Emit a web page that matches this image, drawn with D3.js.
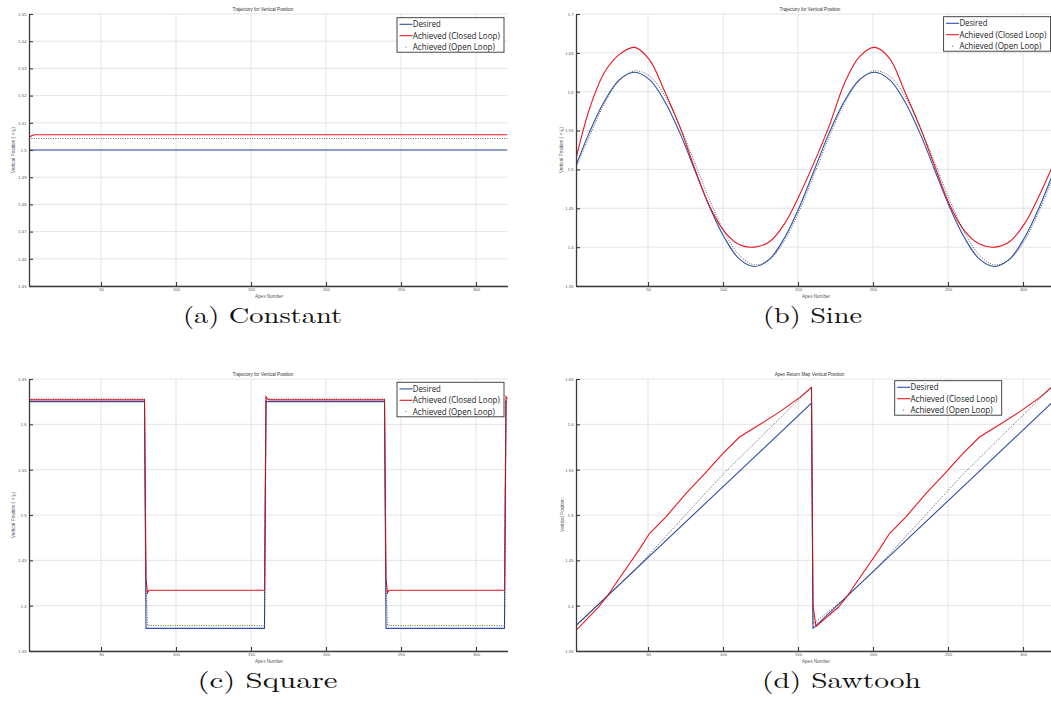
<!DOCTYPE html>
<html>
<head>
<meta charset="utf-8">
<script src="https://cdn.jsdelivr.net/npm/d3@7"></script>
<style>
  html, body { margin: 0; padding: 0; background: #fff; }
  svg { display: block; }
</style>
</head>
<body>
<svg id="fig" width="1051" height="726"></svg>
<script>
// ---------- shared axis ticks ----------
const apexDomain = [2, 321];
const xTicks = [50, 100, 150, 200, 250, 300];
const yTicksConst = [1.45, 1.46, 1.47, 1.48, 1.49, 1.5, 1.51, 1.52, 1.53, 1.54, 1.55];
const yTicksSine = [1.35, 1.4, 1.45, 1.5, 1.55, 1.6, 1.65, 1.7];
const yTicksSquare = [1.35, 1.4, 1.45, 1.5, 1.55, 1.6, 1.65];
const yTicksSaw = [1.35, 1.4, 1.45, 1.5, 1.55, 1.6, 1.65];

// ---------- (a) constant reference ----------
const constApex = [2, 4, 6, 321];
const constDesired = [1.5, 1.5, 1.5, 1.5];
const constClosed = [1.5046, 1.5053, 1.5056, 1.5056];
const constOpen = [1.5042, 1.5042, 1.5042, 1.5042];

// ---------- (b) sine reference ----------
const sineApex = [2, 11, 21, 31, 41, 51, 61, 71, 81, 91, 101, 111, 121, 131, 141, 151, 161,
                  171, 181, 191, 201, 211, 221, 231, 241, 251, 261, 271, 281, 291, 301, 311, 321];
const sineDesired = [1.505, 1.548, 1.588, 1.6155, 1.625, 1.6155, 1.588, 1.548, 1.5, 1.452, 1.412, 1.3845, 1.375, 1.3845, 1.412, 1.452, 1.5,
                     1.548, 1.588, 1.6155, 1.625, 1.6155, 1.588, 1.548, 1.5, 1.452, 1.412, 1.3845, 1.375, 1.3845, 1.412, 1.452, 1.5];
const sineClosed = [1.514, 1.578, 1.625, 1.648, 1.657, 1.641, 1.601, 1.556, 1.502, 1.453, 1.42, 1.403, 1.4, 1.407, 1.43, 1.467, 1.51,
                    1.557, 1.611, 1.645, 1.657, 1.643, 1.601, 1.556, 1.505, 1.455, 1.421, 1.404, 1.4, 1.407, 1.43, 1.467, 1.51];
const sineOpen = [1.503, 1.5429, 1.585, 1.6145, 1.6268, 1.6201, 1.5955, 1.5566, 1.5094, 1.4611, 1.419, 1.3895, 1.3773, 1.3839, 1.4085, 1.4474, 1.4946,
                  1.5429, 1.585, 1.6145, 1.6268, 1.6201, 1.5955, 1.5566, 1.5094, 1.4611, 1.419, 1.3895, 1.3773, 1.3839, 1.4085, 1.4474, 1.4946];

// ---------- (c) square reference ----------
const sqDesiredApex = [2, 79, 80, 159, 160, 239, 240, 319, 320, 321];
const sqDesired = [1.625, 1.625, 1.375, 1.375, 1.625, 1.625, 1.375, 1.375, 1.625, 1.625];
const sqClosedApex = [2, 79, 80, 81, 82, 159, 160, 161, 162, 239, 240, 241, 242, 319, 320, 321];
const sqClosed = [1.627, 1.627, 1.43, 1.414, 1.417, 1.417, 1.6305, 1.628, 1.627, 1.627, 1.43, 1.414, 1.417, 1.417, 1.6305, 1.628];
const sqOpenApex = [2, 79, 80, 81, 159, 160, 161, 239, 240, 241, 319, 320, 321];
const sqOpen = [1.628, 1.628, 1.428, 1.378, 1.378, 1.628, 1.628, 1.628, 1.428, 1.378, 1.378, 1.628, 1.628];

// ---------- (d) sawtooth reference ----------
const sawDesiredApex = [2, 159, 160, 319, 320, 321];
const sawDesired = [1.378, 1.6234, 1.375, 1.6234, 1.375, 1.3766];
const sawClosedApex = [2, 17, 23, 30, 38, 45, 51, 62, 76, 88, 100, 111, 124, 138, 151, 159,
                       160, 162, 177, 183, 190, 198, 205, 211, 222, 236, 248, 260, 271, 284, 298, 311, 319, 320, 321];
const sawClosed = [1.3727, 1.3985, 1.411, 1.428, 1.447, 1.464, 1.4796, 1.498, 1.525, 1.546, 1.568, 1.586, 1.5993, 1.614, 1.6294, 1.6408,
                   1.40, 1.377, 1.3985, 1.411, 1.428, 1.447, 1.464, 1.4796, 1.498, 1.525, 1.546, 1.568, 1.586, 1.5993, 1.614, 1.6294, 1.6408, 1.40, 1.377];
const sawOpenApex = [2, 20, 40, 50, 100, 159, 160, 180, 200, 210, 260, 319, 320, 321];
const sawOpen = [1.378, 1.406, 1.4375, 1.455, 1.545, 1.641, 1.38, 1.406, 1.4375, 1.455, 1.545, 1.641, 1.38, 1.3815];

// ---------- legend text ----------
const legendLabels = ["Desired", "Achieved (Closed Loop)", "Achieved (Open Loop)"];
const legendWidths = [28, 87, 82];

// ---------- styles ----------
const BLUE = "#2f4fa8";
const RED = "#e8161f";
const AXIS = "#3a3a3a";
const GRID = "#e4e4e4";
const SANS = "'Liberation Sans', Arial, sans-serif";
const SERIF = "'Latin Modern Roman', 'CMU Serif', 'Liberation Serif', serif";

const panels = [
  {
    key: "a", x0: 29, x1: 507.5, y0: 14, y1: 286, yDomain: [1.45, 1.55], yTicks: yTicksConst,
    title: "Trajectory for Vertical Position", titleX: 263, scaledLabel: true, ylabX: 14.5,
    legend: { x: 397, y: 17.7 }, caption: "(a) Constant", capX: 183, capY: 322.5, capW: 159,
    curve: d3.curveLinear,
    desired: d3.zip(constApex, constDesired), closed: d3.zip(constApex, constClosed), open: d3.zip(constApex, constOpen)
  },
  {
    key: "b", x0: 576, x1: 1054.5, y0: 14, y1: 286, yDomain: [1.35, 1.7], yTicks: yTicksSine,
    title: "Trajectory for Vertical Position", titleX: 810, scaledLabel: true, ylabX: 562.5,
    legend: { x: 943.6, y: 16.7 }, caption: "(b) Sine", capX: 763, capY: 322.5, capW: 99,
    curve: d3.curveCatmullRom.alpha(0.5),
    desired: d3.zip(sineApex, sineDesired), closed: d3.zip(sineApex, sineClosed), open: d3.zip(sineApex, sineOpen)
  },
  {
    key: "c", x0: 29, x1: 507.5, y0: 379, y1: 651, yDomain: [1.35, 1.65], yTicks: yTicksSquare,
    title: "Trajectory for Vertical Position", titleX: 263, scaledLabel: true, ylabX: 14.5,
    legend: { x: 397, y: 382.3 }, caption: "(c) Square", capX: 197.5, capY: 688, capW: 140,
    curve: d3.curveLinear,
    desired: d3.zip(sqDesiredApex, sqDesired), closed: d3.zip(sqClosedApex, sqClosed), open: d3.zip(sqOpenApex, sqOpen)
  },
  {
    key: "d", x0: 576, x1: 1054.5, y0: 379, y1: 651, yDomain: [1.35, 1.65], yTicks: yTicksSaw,
    title: "Apex Return Map Vertical Position", titleX: 809.5, scaledLabel: false, ylabX: 563.5,
    legend: { x: 894.7, y: 380.7 }, caption: "(d) Sawtooh", capX: 762, capY: 688, capW: 159,
    curve: d3.curveLinear,
    desired: d3.zip(sawDesiredApex, sawDesired), closed: d3.zip(sawClosedApex, sawClosed), open: d3.zip(sawOpenApex, sawOpen)
  }
];

const svg = d3.select("#fig");
svg.append("rect").attr("width", 1051).attr("height", 726).attr("fill", "#fff");
const defs = svg.append("defs");

panels.forEach(p => {
  const x = d3.scaleLinear().domain(apexDomain).range([p.x0, p.x1]);
  const y = d3.scaleLinear().domain(p.yDomain).range([p.y1, p.y0]);
  const g = svg.append("g").attr("class", "panel-" + p.key);

  // grid
  const grid = g.append("g").attr("stroke", GRID).attr("stroke-width", 1);
  p.yTicks.forEach(t => grid.append("line")
    .attr("x1", p.x0).attr("x2", p.x1).attr("y1", y(t)).attr("y2", y(t)));
  xTicks.forEach(t => grid.append("line")
    .attr("x1", x(t)).attr("x2", x(t)).attr("y1", p.y0).attr("y2", p.y1));

  // clip for the traces
  defs.append("clipPath").attr("id", "clip-" + p.key)
    .append("rect").attr("x", p.x0).attr("y", p.y0 - 2)
    .attr("width", p.x1 - p.x0).attr("height", p.y1 - p.y0 + 2);

  const line = d3.line().x(d => x(d[0])).y(d => y(d[1])).curve(p.curve);
  const traces = g.append("g").attr("clip-path", `url(#clip-${p.key})`).attr("fill", "none");
  traces.append("path").attr("d", line(p.desired)).attr("stroke", BLUE).attr("stroke-width", 1.1);
  traces.append("path").attr("d", line(p.closed)).attr("stroke", RED).attr("stroke-width", 1.1);
  traces.append("path").attr("d", line(p.open)).attr("stroke", "#222")
    .attr("stroke-width", 0.8).attr("stroke-dasharray", "0.9 1.5");

  // axes (ticks pointing inward)
  const yAxis = d3.axisLeft(y).tickValues(p.yTicks).tickFormat(d => String(d))
    .tickSizeInner(-4).tickSizeOuter(0).tickPadding(2.5);
  const xAxis = d3.axisBottom(x).tickValues(xTicks).tickFormat(d => String(d))
    .tickSizeInner(-4).tickSizeOuter(0).tickPadding(2);
  const ya = g.append("g").attr("transform", `translate(${p.x0},0)`).call(yAxis);
  const xa = g.append("g").attr("transform", `translate(0,${p.y1})`).call(xAxis);
  [ya, xa].forEach(a => {
    a.select(".domain").attr("stroke", AXIS).attr("stroke-width", 1.3);
    a.selectAll(".tick line").attr("stroke", AXIS).attr("stroke-width", 1.1);
    a.selectAll(".tick text").attr("fill", "#555").attr("font-size", 4.2).attr("font-family", SANS);
  });

  // title and axis labels
  g.append("text").attr("x", p.titleX).attr("y", p.y0 - 2.6)
    .attr("text-anchor", "middle").attr("font-family", SANS).attr("font-size", 4.6)
    .attr("fill", "#333").text(p.title);
  g.append("text").attr("x", (p.x0 + p.x1) / 2 + 0.8).attr("y", p.y1 + 11.8)
    .attr("text-anchor", "middle").attr("font-family", SANS).attr("font-size", 4.6)
    .attr("fill", "#555").text("Apex Number");
  const yl = g.append("text")
    .attr("transform", `translate(${p.ylabX},${(p.y0 + p.y1) / 2}) rotate(-90)`)
    .attr("text-anchor", "middle").attr("font-family", SANS).attr("font-size", 4.7).attr("fill", "#555");
  if (p.scaledLabel) {
    yl.append("tspan").text("Vertical Position ( \u00D7 l");
    yl.append("tspan").attr("font-size", 3.4).attr("dy", 1.2).text("0");
    yl.append("tspan").attr("dy", -1.2).text(")");
  } else {
    yl.text("Vertical Position");
  }

  // legend
  const lg = g.append("g").attr("transform", `translate(${p.legend.x},${p.legend.y})`);
  lg.append("rect").attr("width", 107).attr("height", 34.5)
    .attr("fill", "#fff").attr("stroke", "#333").attr("stroke-width", 0.9);
  const rowY = [6.6, 18, 29.3];
  lg.append("line").attr("x1", 2.5).attr("x2", 15.5).attr("y1", rowY[0]).attr("y2", rowY[0])
    .attr("stroke", BLUE).attr("stroke-width", 1.1);
  lg.append("line").attr("x1", 2.5).attr("x2", 15.5).attr("y1", rowY[1]).attr("y2", rowY[1])
    .attr("stroke", RED).attr("stroke-width", 1.1);
  lg.append("circle").attr("cx", 9).attr("cy", rowY[2]).attr("r", 0.5).attr("fill", "#222");
  legendLabels.forEach((t, i) => {
    lg.append("text").attr("x", 15.8).attr("y", rowY[i] + 3.1)
      .attr("font-family", "'Open Sans', sans-serif").attr("font-size", 8.3)
      .attr("fill", "#222").attr("textLength", legendWidths[i])
      .attr("lengthAdjust", "spacingAndGlyphs").text(t);
  });

  // subfigure caption
  svg.append("text").attr("x", p.capX).attr("y", p.capY)
    .attr("font-family", SERIF).attr("font-size", 22).attr("fill", "#111")
    .attr("textLength", p.capW).attr("lengthAdjust", "spacingAndGlyphs").text(p.caption);
});
</script>
</body>
</html>
